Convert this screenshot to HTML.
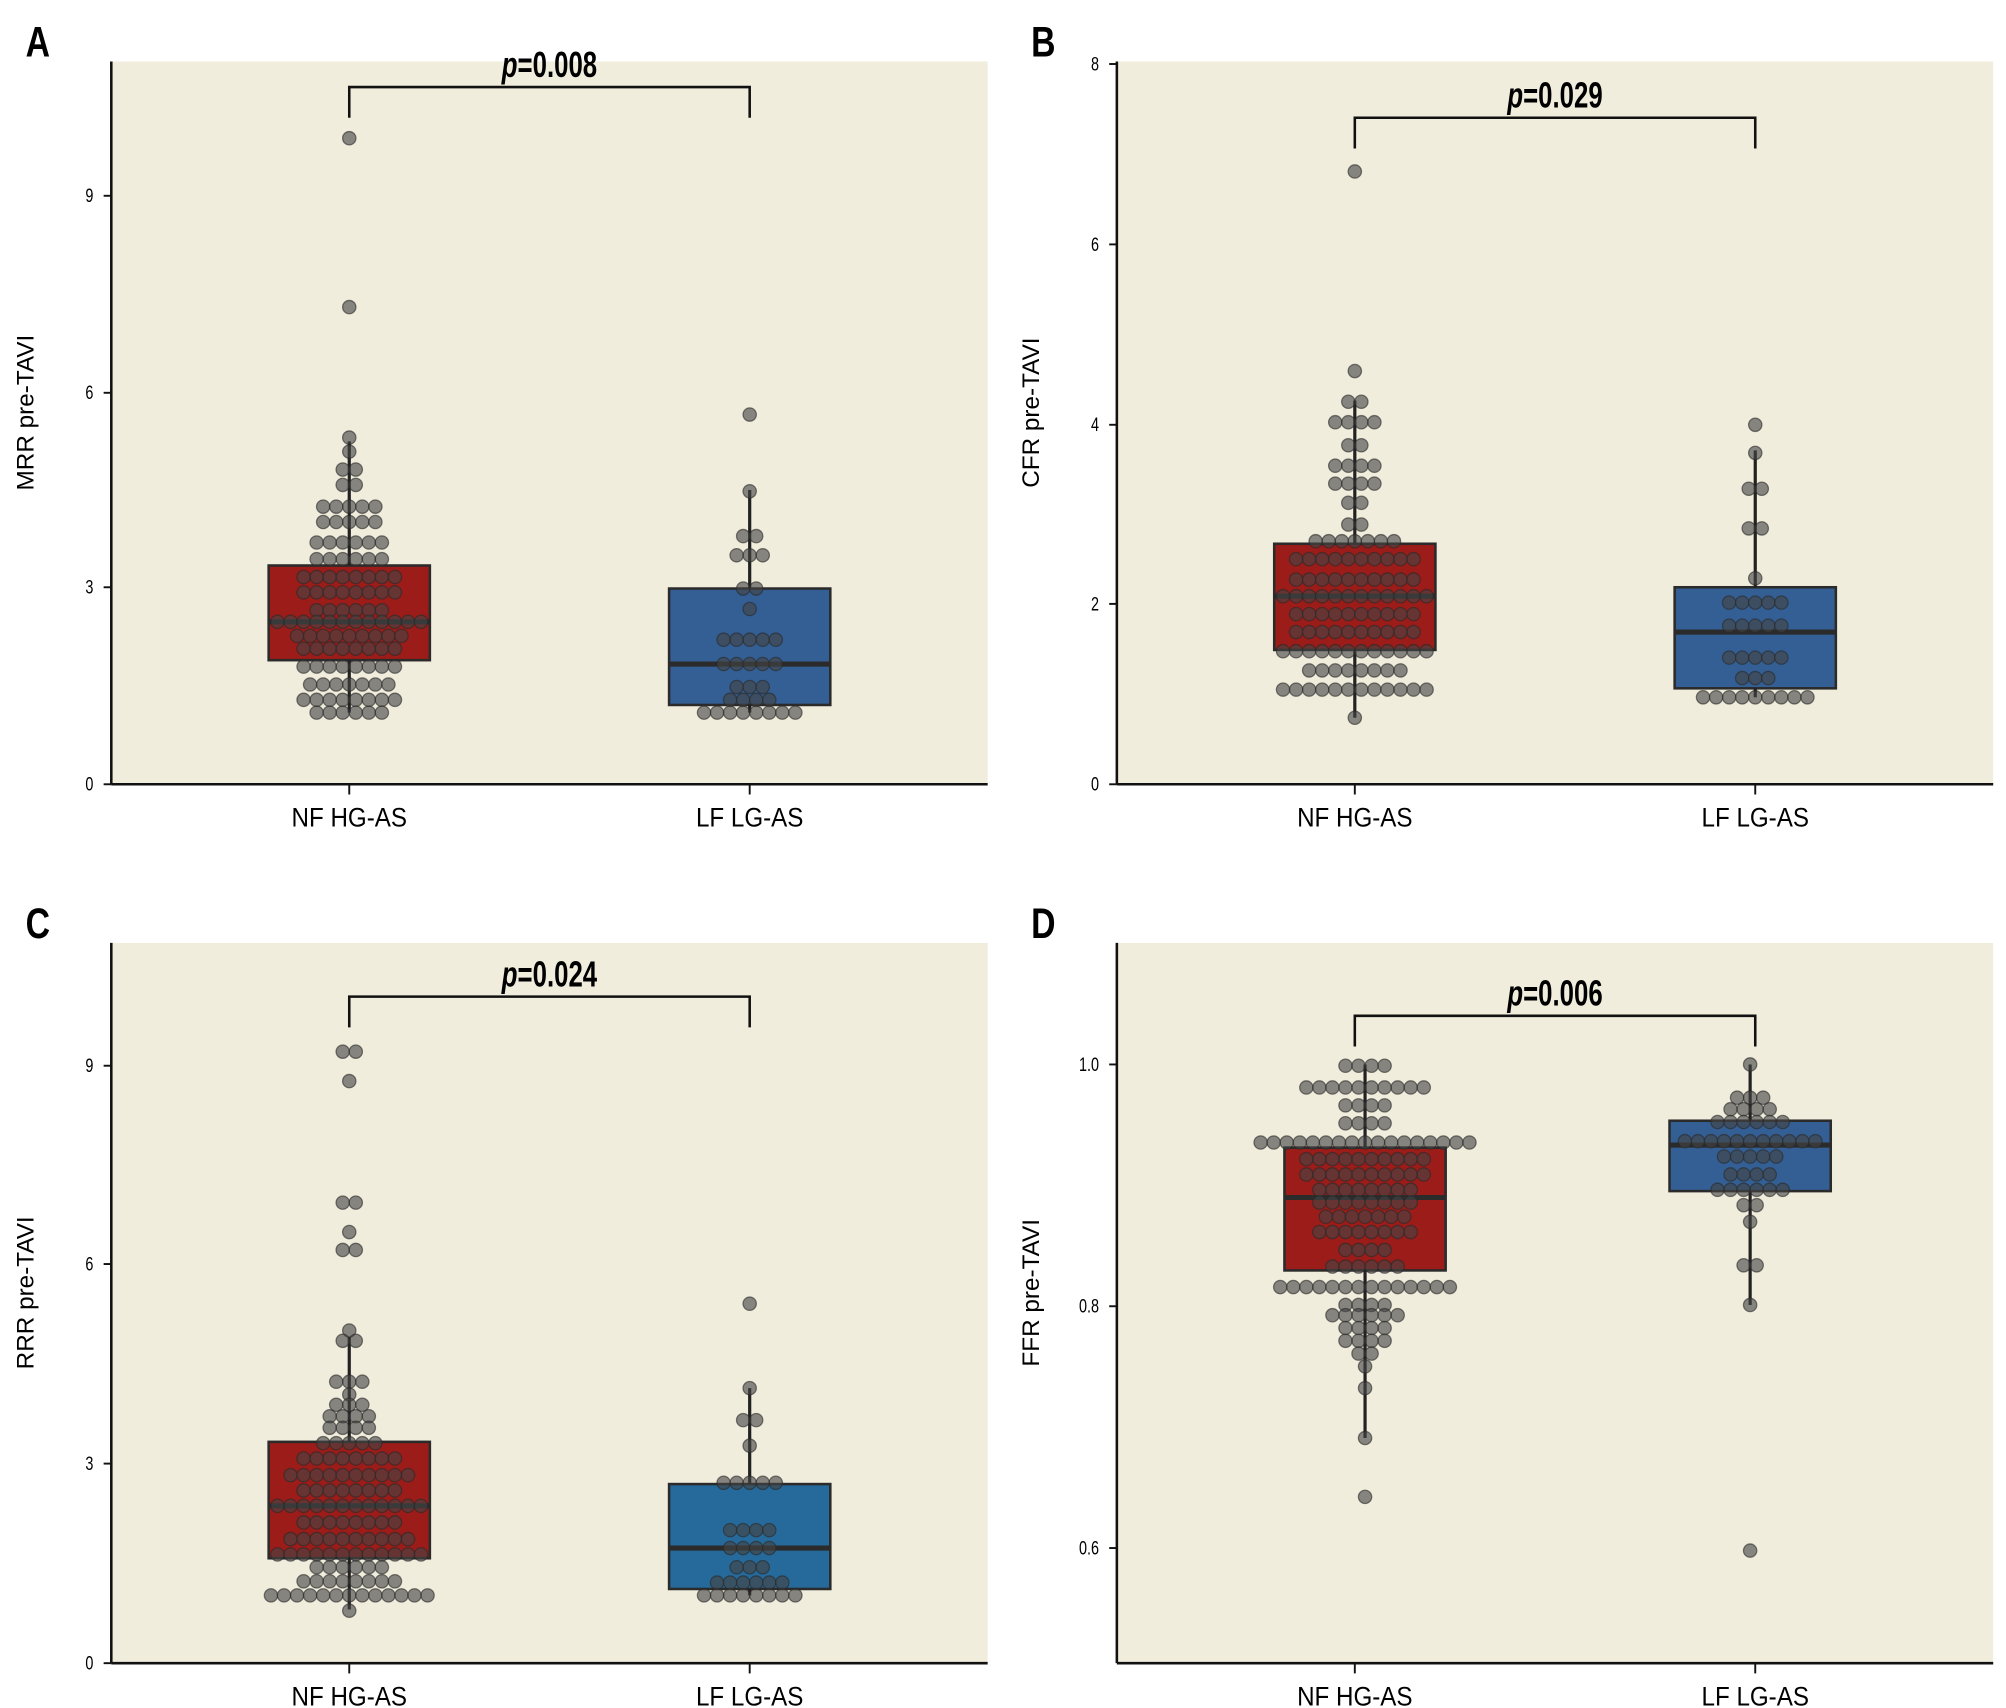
<!DOCTYPE html>
<html><head><meta charset="utf-8"><style>
html,body{margin:0;padding:0;background:#fff;}
svg{display:block;}
text{font-family:"Liberation Sans",sans-serif;}
</style></head><body>
<svg id="s" width="2006" height="1708" viewBox="0 0 1568 1335" xmlns="http://www.w3.org/2000/svg"></svg>
<script>
const s=document.getElementById('s');let h='';
function panel(o){
 const L=o.x0,T=o.top,B=o.bot,R=o.x0+685;
 h+=`<rect x="${L}" y="${T}" width="${R-L}" height="${B-T}" fill="#f1eddc"/>`;
 o.boxes.forEach(b=>{
  h+=`<rect x="${b.cx-63}" y="${b.q3}" width="126" height="${b.q1-b.q3}" fill="${b.c}" stroke="#2b2b2b" stroke-width="2"/>`;
  h+=`<line x1="${b.cx-63}" x2="${b.cx+63}" y1="${b.med}" y2="${b.med}" stroke="#2b2b2b" stroke-width="4"/>`;
  h+=`<line x1="${b.cx}" x2="${b.cx}" y1="${b.w1}" y2="${b.q3}" stroke="#222" stroke-width="2.5"/>`;
  h+=`<line x1="${b.cx}" x2="${b.cx}" y1="${b.q1}" y2="${b.w2}" stroke="#222" stroke-width="2.5"/>`;
  b.rows.forEach(([y,n])=>{for(let i=0;i<n;i++){const x=b.cx+(i-(n-1)/2)*10.2;
   h+=`<circle cx="${x}" cy="${y}" r="5.2" fill="#444" fill-opacity="0.62" stroke="#2a2a2a" stroke-opacity="0.6" stroke-width="1"/>`;}});
 });
 h+=`<line x1="${L}" y1="${T}" x2="${L}" y2="${B}" stroke="#111" stroke-width="2"/>`;
 h+=`<line x1="${L}" y1="${B}" x2="${R}" y2="${B}" stroke="#111" stroke-width="2"/>`;
 o.ticks.forEach(([y,t])=>{h+=`<line x1="${L-6}" x2="${L}" y1="${y}" y2="${y}" stroke="#111" stroke-width="1.5"/><text x="${L-14}" y="${y+5}" font-size="15" text-anchor="end" transform="translate(${L-14},0) scale(0.75,1) translate(${-(L-14)},0)">${t}</text>`;});
 [[o.x0+186,'NF HG-AS'],[o.x0+499,'LF LG-AS']].forEach(([x,t])=>{h+=`<line x1="${x}" x2="${x}" y1="${B}" y2="${B+8}" stroke="#111" stroke-width="1.5"/><text x="${x}" y="${B+33}" font-size="21" text-anchor="middle" transform="translate(${x},0) scale(0.9,1) translate(${-x},0)">${t}</text>`;});
 const ym=(T+B)/2;h+=`<text x="0" y="0" font-size="19" text-anchor="middle" transform="translate(${L-61},${ym-8}) rotate(-90)">${o.yl}</text>`;
 h+=`<text x="${L-67}" y="${T-4}" font-size="33" font-weight="bold" transform="translate(${L-67},0) scale(0.8,1) translate(${-(L-67)},0)">${o.letter}</text>`;
 const a=o.x0+186,c=o.x0+499;
 h+=`<path d="M${a} ${o.br+24} V${o.br} H${c} V${o.br+24}" fill="none" stroke="#111" stroke-width="2"/>`;
 const mx=(a+c)/2;
 h+=`<text x="${mx}" y="${o.br-8}" font-size="28" font-weight="bold" text-anchor="middle" transform="translate(${mx},0) scale(0.72,1) translate(${-mx},0)"><tspan font-style="italic">p</tspan>=${o.p}</text>`;
}
panel({x0:87,top:48,bot:613,letter:'A',yl:'MRR pre-TAVI',p:'0.008',br:68,
 ticks:[[613,0],[459,3],[307,6],[153,9]],
 boxes:[{cx:273,q3:442,q1:516,med:486,w1:345,w2:557,c:'#9b1c18',rows:[[108,1],[240,1],[342,1],[353,1],[367,2],[379,2],[396,5],[408,5],[424,6],[437,6],[451,8],[463,8],[477,6],[486,12],[497,9],[507,8],[521,8],[535,7],[547,8],[557,6]]},
 {cx:586,q3:460,q1:551,med:519,w1:383,w2:557,c:'#335f94',rows:[[324,1],[384,1],[419,2],[434,3],[460,2],[476,1],[500,5],[519,5],[537,3],[547,4],[557,8]]}]});
panel({x0:873,top:48,bot:613,letter:'B',yl:'CFR pre-TAVI',p:'0.029',br:92,
 ticks:[[613,0],[472,2],[332,4],[191,6],[50,8]],
 boxes:[{cx:1059,q3:425,q1:508,med:466,w1:313,w2:561,c:'#9b1c18',rows:[[134,1],[290,1],[314,2],[330,4],[348,2],[364,4],[378,4],[393,2],[410,2],[423,7],[437,10],[453,10],[466,12],[480,10],[494,10],[509,12],[524,8],[539,12],[561,1]]},
 {cx:1372,q3:459,q1:538,med:494,w1:352,w2:545,c:'#335f94',rows:[[332,1],[354,1],[382,2],[413,2],[452,1],[471,5],[489,5],[514,5],[530,3],[545,9]]}]});
panel({x0:87,top:737,bot:1300,letter:'C',yl:'RRR pre-TAVI',p:'0.024',br:779,
 ticks:[[1300,0],[1144,3],[988,6],[833,9]],
 boxes:[{cx:273,q3:1127,q1:1218,med:1177,w1:1045,w2:1258,c:'#9b1c18',rows:[[822,2],[845,1],[940,2],[963,1],[977,2],[1040,1],[1048,2],[1080,3],[1090,1],[1098,3],[1107,4],[1116,4],[1128,5],[1140,8],[1153,10],[1165,8],[1177,12],[1190,8],[1203,10],[1215,12],[1225,6],[1236,8],[1247,13],[1259,1]]},
 {cx:586,q3:1160,q1:1242,med:1210,w1:1085,w2:1247,c:'#256a9a',rows:[[1019,1],[1085,1],[1110,2],[1130,1],[1159,5],[1196,4],[1210,4],[1225,3],[1237,6],[1247,8]]}]});
panel({x0:873,top:737,bot:1300,letter:'D',yl:'FFR pre-TAVI',p:'0.006',br:794,
 ticks:[[1210,'0.6'],[1021,'0.8'],[832,'1.0']],
 boxes:[{cx:1067,q3:897,q1:993,med:936,w1:832,w2:1124,c:'#9b1c18',rows:[[833,4],[850,10],[864,4],[878,4],[893,17],[906,10],[918,10],[930,8],[940,8],[951,7],[963,8],[977,4],[990,6],[1006,14],[1020,4],[1028,6],[1038,4],[1048,4],[1058,2],[1068,1],[1085,1],[1124,1],[1170,1]]},
 {cx:1368,q3:876,q1:931,med:895,w1:832,w2:1020,c:'#335f94',rows:[[832,1],[858,3],[867,4],[877,6],[892,11],[904,5],[918,4],[930,6],[942,2],[955,1],[989,2],[1020,1],[1212,1]]}]});
s.innerHTML=h;
</script>
</body></html>
